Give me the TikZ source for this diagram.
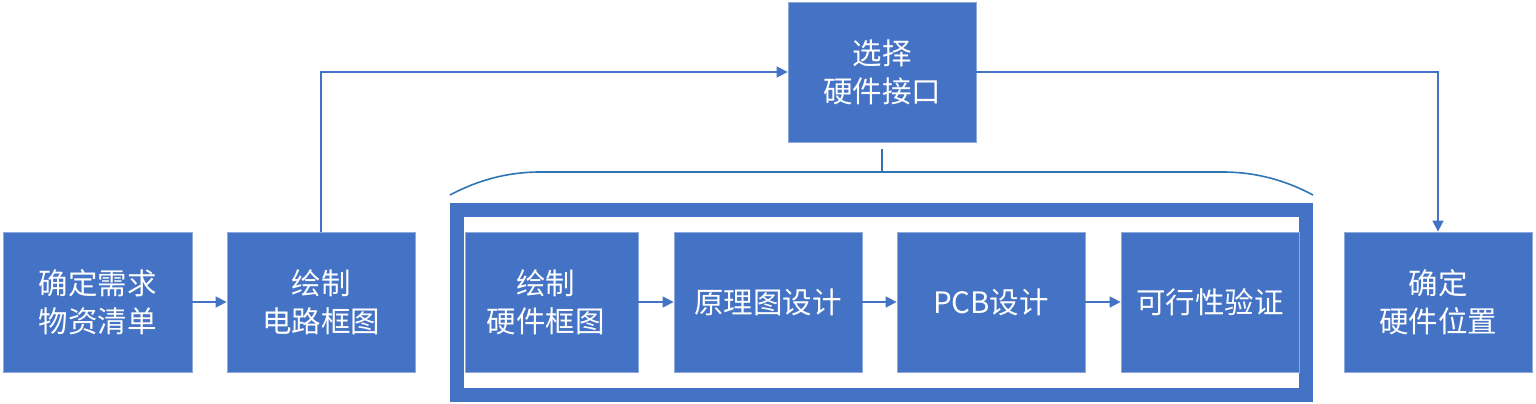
\documentclass[tikz,border=0pt]{standalone}
\usepackage{fontspec}
\setmainfont{Noto Sans CJK SC}
\usetikzlibrary{arrows.meta}
\definecolor{boxblue}{HTML}{4472C4}
\definecolor{edgeblue}{HTML}{8EA9DB}
\definecolor{brblue}{HTML}{2E75B6}
\tikzset{
  blockbox/.style={fill=boxblue, draw=edgeblue, line width=0.8pt, text=white,
    minimum height=140pt, inner sep=0pt, align=center,
    font=\fontsize{29.5pt}{38pt}\selectfont},
  conn/.style={draw=boxblue, line width=1.5pt, -{Triangle[length=11pt,width=11pt]}},
  bracketline/.style={draw=brblue, line width=1.6pt}
}
\begin{document}
\begin{tikzpicture}[x=1pt,y=-1pt]
\useasboundingbox (0,0) rectangle (1536,404);
% frame
\draw[boxblue, line width=14pt] (457,210) rectangle (1306,395);
% boxes
\node[blockbox, minimum width=189pt] (req) at (97.5,302) {确定需求\\物资清单};
\node[blockbox, minimum width=188pt] (circ) at (321,302) {绘制\\电路框图};
\node[blockbox, minimum width=188pt] (sel) at (882,72) {选择\\硬件接口};
\node[blockbox, minimum width=173pt] (hw) at (551.5,302) {\hspace*{-12pt}绘制\\\hspace*{-12pt}硬件框图};
\node[blockbox, minimum width=188pt] (sch) at (768,302) {原理图设计};
\node[blockbox, minimum width=188pt] (pcb) at (991,302) {PCB设计};
\node[blockbox, minimum width=178pt] (ver) at (1210,302) {可行性验证};
\node[blockbox, minimum width=188pt] (pos) at (1438,302) {确定\\硬件位置};
% connectors
\draw[conn] (req) -- (circ);
\draw[conn] (hw) -- (sch);
\draw[conn] (sch) -- (pcb);
\draw[conn] (pcb) -- (ver);
\draw[conn] (circ.north) |- (sel.west);
\draw[conn] (sel.east) -| (pos.north);
% bracket
\coordinate (tickTop) at (882,149);
\coordinate (tickBot) at (882,172);
\coordinate (brL) at (450,195);
\coordinate (brR) at (1313,195);
\draw[bracketline] (brL) .. controls (478,180) and (508,172) .. (540,172)
  -- (1223,172) .. controls (1255,172) and (1285,180) .. (brR);
\draw[bracketline, line width=1.3pt] (tickTop) -- (tickBot);
\end{tikzpicture}
\end{document}
